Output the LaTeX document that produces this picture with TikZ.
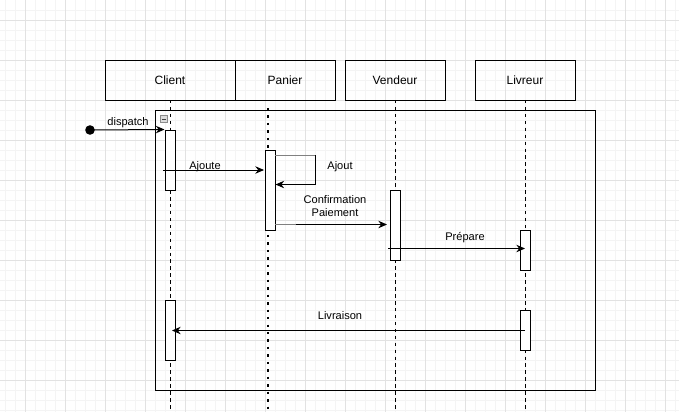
\documentclass[tikz,border=0pt]{standalone}
\usepackage{fontspec}
\setmainfont{Liberation Sans}
\usetikzlibrary{arrows.meta}
\definecolor{gridmajor}{HTML}{E2E2E2}
\definecolor{gridminor}{HTML}{F4F4F4}
\definecolor{iconfill}{HTML}{DCDCDC}
\definecolor{iconline}{HTML}{8C8C8C}
\tikzset{
  px/.style={x=0.75pt,y=-0.75pt},
  header/.style={draw=black,line width=0.75pt,minimum width=97.5pt,minimum height=30pt,inner sep=0pt,font=\fontsize{9}{10}\selectfont},
  activation/.style={draw=black,fill=white,line width=0.75pt,minimum width=7.5pt,inner sep=0pt},
  lifeline/.style={line width=0.75pt,dash pattern=on 2.6pt off 2.6pt},
  dotline/.style={line width=1.6pt,dash pattern=on 1.8pt off 3.8pt},
  msg/.style={line width=0.75pt,-{Stealth[length=6.5pt,width=5.6pt]}},
  lbl/.style={font=\fontsize{8.3}{9.5}\selectfont,inner sep=0pt,align=center},
}
\begin{document}
\begin{tikzpicture}[px]
\useasboundingbox (0,0) rectangle (679,412);
\fill[white] (0,0) rectangle (679,412);
% grid
\foreach \x in {5,15,...,675} \draw[gridminor,line width=0.75pt] (\x,0) -- (\x,412);
\foreach \y in {10,20,...,410} \draw[gridminor,line width=0.75pt] (0,\y) -- (679,\y);
\foreach \x in {25,65,...,665} \draw[gridmajor,line width=0.75pt] (\x,0) -- (\x,412);
\foreach \y in {20,60,...,400} \draw[gridmajor,line width=0.75pt] (0,\y) -- (679,\y);

% headers
\node[header,minimum width=97.5pt] (client) at (170,80) {Client};
\node[header,minimum width=75pt] (panier) at (285,80) {Panier};
\node[header,minimum width=75pt] (vendeur) at (395,80) {Vendeur};
\node[header,minimum width=75pt] (livreur) at (525,80) {Livreur};

% frame
\draw[line width=0.75pt] (155.5,110) rectangle (595.5,390);
\node[draw=iconline,fill=iconfill,line width=0.6pt,minimum size=5.6pt,inner sep=0pt] (icon) at (164,119) {};
\draw[black!75,line width=0.75pt] (161.8,119) -- (166.2,119);

% lifelines
\coordinate (clientEnd) at (170.5,412);
\coordinate (panierTop) at (268,108);
\coordinate (panierEnd) at (268,412);
\coordinate (vendeurEnd) at (395.5,412);
\coordinate (livreurEnd) at (525.5,412);
\draw[lifeline] (170.5,100) -- (clientEnd);
\draw[dotline] (panierTop) -- (panierEnd);
\draw[lifeline] (395.5,100) -- (vendeurEnd);
\draw[lifeline] (525.5,100) -- (livreurEnd);

% activations
\node[activation,minimum height=45pt] (c1) at (170,160) {};
\node[activation,minimum height=60pt] (p1) at (270,190) {};
\node[activation,minimum height=52.5pt] (v1) at (395,225) {};
\node[activation,minimum height=30pt] (l1) at (525,250) {};
\node[activation,minimum height=45pt] (c2) at (170,330) {};
\node[activation,minimum height=30pt] (l2) at (525,330) {};

% dispatch
\coordinate (start) at (90,130);
\fill (start) circle (3.6pt);
\draw[msg] (start) -- (c1.north west);
\node[lbl,anchor=south] (ldispatch) at (128,128) {dispatch};

% Ajoute
\coordinate (a1) at (163,170);
\coordinate (a2) at (264,170);
\draw[msg] (a1) -- (a2);
\node[lbl] (lajoute) at (205,166.5) {Ajoute};

% Ajout self loop
\coordinate (s1) at (275,155);
\coordinate (s2) at (315.5,155);
\coordinate (s3) at (315.5,184.5);
\coordinate (s4) at (275.5,184.5);
\draw[gray,line width=0.75pt] (s1) -- (s2);
\draw[msg] (s2) -- (s3) -- (s4);
\node[lbl] (lajout) at (340,166.5) {Ajout};

% Confirmation Paiement
\coordinate (cp1) at (275,224.5);
\coordinate (cp2) at (296,224.5);
\coordinate (cp3) at (387,224.5);
\draw[gray,line width=0.75pt] (cp1) -- (cp2);
\draw[msg] (cp2) -- (cp3);
\node[lbl] (lconf) at (335,206) {Confirmation\\Paiement};

% Prepare
\coordinate (pr1) at (388,248.5);
\coordinate (pr2) at (525,248.5);
\draw[msg] (pr1) -- (pr2);
\node[lbl] (lprep) at (465,237.5) {Prépare};

% Livraison
\coordinate (lv1) at (525,330.5);
\coordinate (lv2) at (172,330.5);
\draw[msg] (lv1) -- (lv2);
\node[lbl] (lliv) at (340,316) {Livraison};
\end{tikzpicture}
\end{document}
